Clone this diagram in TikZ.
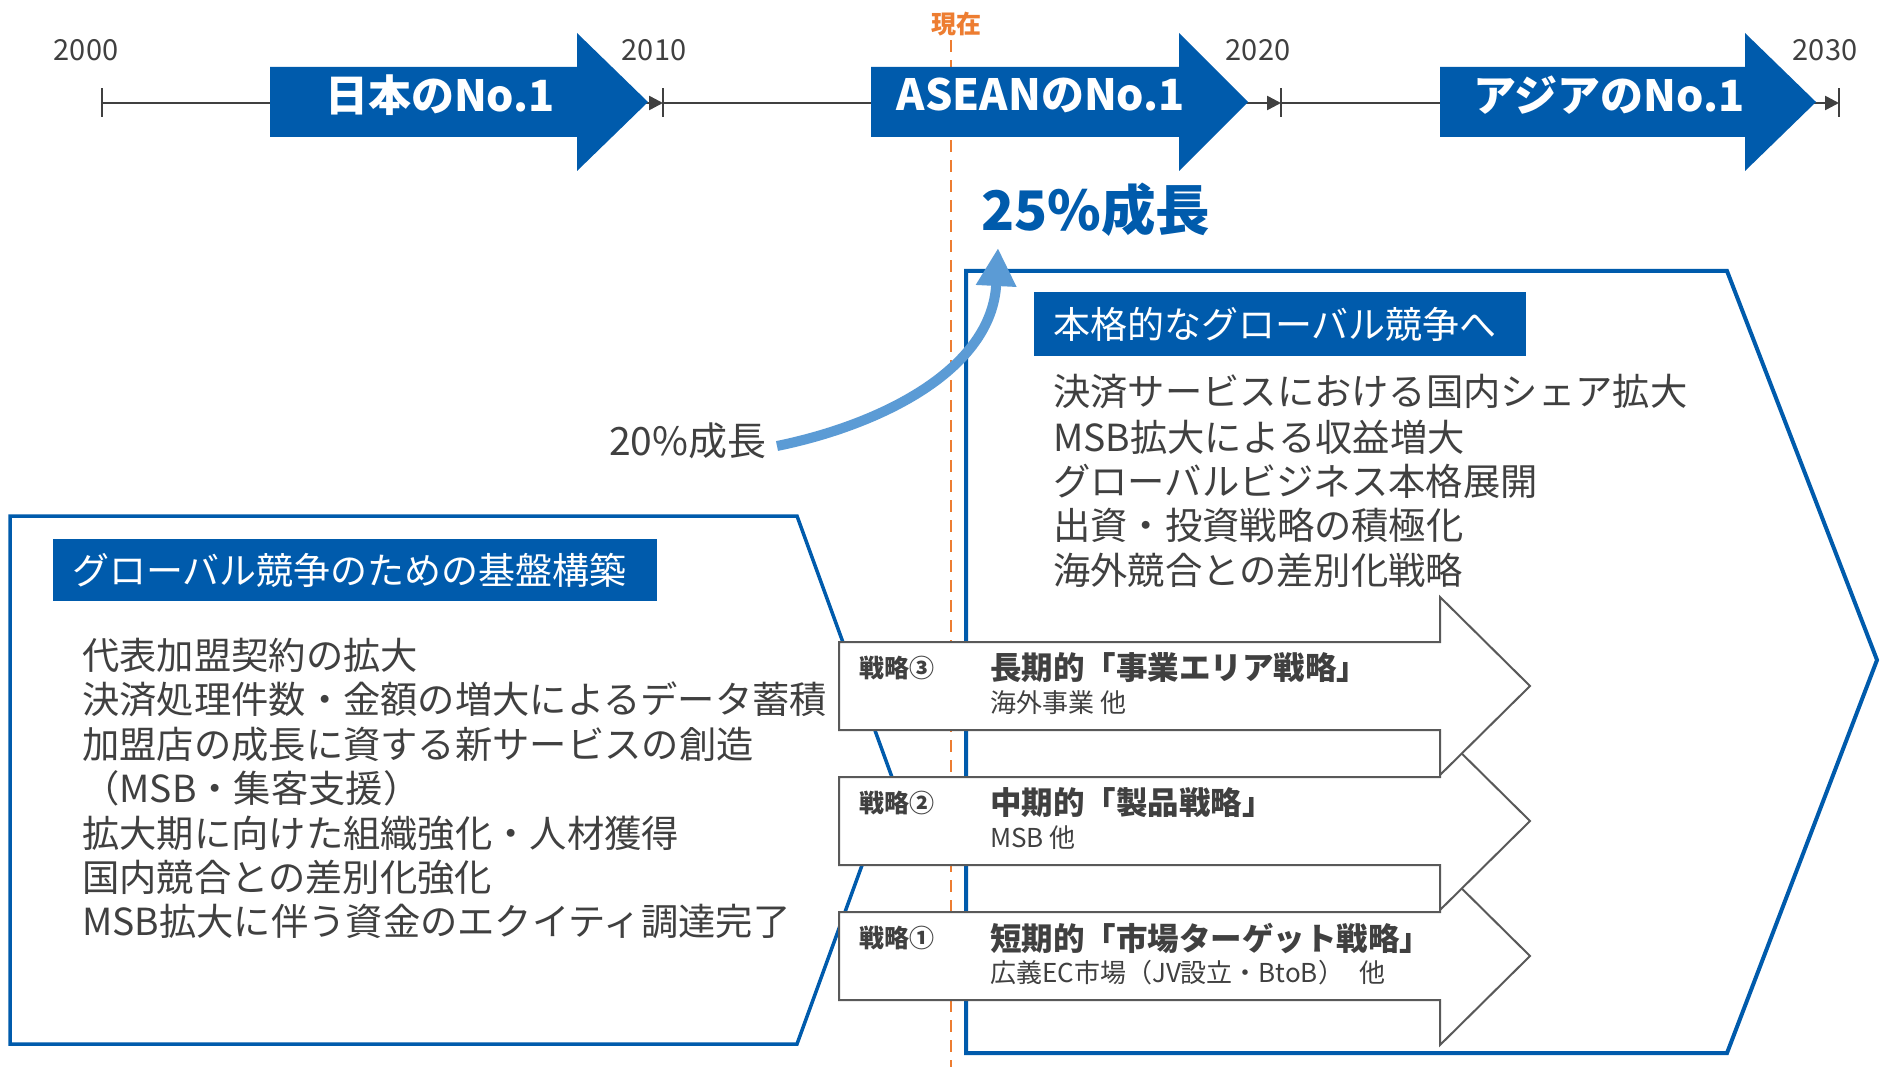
\documentclass[tikz,border=0pt]{standalone}
\usepackage{fontspec}
\setmainfont{Noto Sans CJK JP}
\usetikzlibrary{arrows.meta}
\definecolor{mainblue}{HTML}{005BAC}
\definecolor{lightblue}{HTML}{5B9BD5}
\definecolor{txtgray}{HTML}{404040}
\definecolor{linegray}{HTML}{595959}
\definecolor{nowor}{HTML}{ED7D31}
\tikzset{
  fs/.style={font=\fontsize{#1}{#1}\selectfont},
  fsb/.style={font=\fontsize{#1}{#1}\selectfont\bfseries},
  lbl/.style={inner sep=0pt, anchor=west, text=txtgray},
  year/.style={inner sep=0pt, text=txtgray, fs=29},
  bigarrow/.style={fill=mainblue},
  arrowtxt/.style={inner sep=0pt, text=white, fsb=43},
  tl/.style={draw=txtgray, line width=2.5pt},
  tlarrow/.style={tl, -{Triangle[length=14pt,width=14pt]}},
  tick/.style={draw=txtgray, line width=2.5pt},
  panel/.style={draw=mainblue, line width=4pt, line join=miter},
  titlebox/.style={fill=mainblue},
  titletxt/.style={inner sep=0pt, anchor=west, text=white, fs=37},
  bullet/.style={lbl, fs=37.3},
  strat/.style={draw=linegray, fill=white, line width=2pt, line join=miter},
  stratlbl/.style={lbl, fsb=25},
  strattitle/.style={lbl, fsb=31.5},
  stratsub/.style={lbl, fs=26},
}
\begin{document}
\begin{tikzpicture}[x=1pt,y=-1pt]
\useasboundingbox[fill=white] (0,0) rectangle (1881,1067);

% ---------- timeline ----------
\coordinate (t0) at (102,103);
\coordinate (t1) at (663,103);
\coordinate (t2) at (1281,103);
\coordinate (t3) at (1839,103);
\draw[tlarrow] (t0) -- (t1);
\draw[tlarrow] (t1) -- (t2);
\draw[tlarrow] (t2) -- (t3);
\foreach \t in {t0,t1,t2,t3} \draw[tick] ([yshift=14.5pt]\t) -- ([yshift=-14.5pt]\t);
\node[year] (y0) at (86,50) {2000};
\node[year] (y1) at (654,50) {2010};
\node[year] (y2) at (1258,50) {2020};
\node[year] (y3) at (1825,50) {2030};

% ---------- now line ----------
\node[inner sep=0pt, text=nowor, fsb=25] (now) at (956,24) {現在};
\coordinate (nowbot) at (951,1067);
\draw[nowor, line width=2pt, dash pattern=on 12pt off 8pt] (now.south -| nowbot) ++(0,4) -- (nowbot);

% ---------- big arrows ----------
\fill[bigarrow] (270,67) -- (577,67) -- (577,33) -- (648,102) -- (577,171) -- (577,137) -- (270,137) -- cycle;
\fill[bigarrow] (871,67) -- (1179,67) -- (1179,33) -- (1248,102) -- (1179,171) -- (1179,137) -- (871,137) -- cycle;
\fill[bigarrow] (1440,67) -- (1745,67) -- (1745,33) -- (1816,102) -- (1745,171) -- (1745,137) -- (1440,137) -- cycle;
\node[arrowtxt] (a1) at (440,95) {日本のNo.1};
\node[arrowtxt] (a2) at (1041,95) {ASEANのNo.1};
\node[arrowtxt] (a3) at (1609,95) {アジアのNo.1};

% ---------- panels ----------
\draw[panel] (966,271) -- (1727,271) -- (1877,660) -- (1727,1053) -- (966,1053) -- cycle;
\draw[panel, line width=3.5pt] (10,516) -- (797,516) -- (893,780) -- (797,1044) -- (10,1044) -- cycle;

% right panel title
\fill[titlebox] (1034,292) rectangle (1526,356);
\node[titletxt] (rt) at (1053,324) {本格的なグローバル競争へ};
\node[bullet] (r1) at (1053,392) {決済サービスにおける国内シェア拡大};
\node[bullet] (r2) at (1053,437) {MSB拡大による収益増大};
\node[bullet] (r3) at (1053,481) {グローバルビジネス本格展開};
\node[bullet] (r4) at (1053,525) {出資・投資戦略の積極化};
\node[bullet] (r5) at (1053,570) {海外競合との差別化戦略};

% left panel title
\fill[titlebox] (53,539) rectangle (657,601);
\node[titletxt] (lt) at (72,570) {グローバル競争のための基盤構築};
\node[bullet] (l1) at (82,655) {代表加盟契約の拡大};
\node[bullet] (l2) at (82,699) {決済処理件数・金額の増大によるデータ蓄積};
\node[bullet] (l3) at (82,744) {加盟店の成長に資する新サービスの創造};
\node[bullet] (l4) at (82,788) {（MSB・集客支援）};
\node[bullet] (l5) at (82,833) {拡大期に向けた組織強化・人材獲得};
\node[bullet] (l6) at (82,877) {国内競合との差別化強化};
\node[bullet] (l7) at (82,921) {MSB拡大に伴う資金のエクイティ調達完了};

% ---------- growth ----------
\node[lbl, fs=39] (g20) at (609,441) {20\%成長};
\node[inner sep=0pt, anchor=west, text=mainblue, fsb=54.5] (g25) at (981,210) {25\%成長};
\coordinate (cs) at (777,446);
\coordinate (ce) at (998,248);
\draw[lightblue, line width=10pt, -{Triangle[length=38pt,width=38pt]}]
  (cs) .. controls (880,425) and (992,370) .. (ce);

% ---------- strategy arrows ----------
\draw[strat] (839,912) -- (1440,912) -- (1440,867) -- (1530,956) -- (1440,1045) -- (1440,1000) -- (839,1000) -- cycle;
\draw[strat] (839,777) -- (1440,777) -- (1440,732) -- (1530,821) -- (1440,910) -- (1440,865) -- (839,865) -- cycle;
\draw[strat] (839,642) -- (1440,642) -- (1440,597) -- (1530,686) -- (1440,775) -- (1440,730) -- (839,730) -- cycle;

\node[stratlbl] (s3) at (859,668) {戦略③};
\node[strattitle] (s3t) at (990,668) {長期的「事業エリア戦略」};
\node[stratsub] (s3s) at (990,703) {海外事業 他};

\node[stratlbl] (s2) at (859,803) {戦略②};
\node[strattitle] (s2t) at (990,803) {中期的「製品戦略」};
\node[stratsub] (s2s) at (990,838) {MSB 他};

\node[stratlbl] (s1) at (859,938) {戦略①};
\node[strattitle] (s1t) at (990,938) {短期的「市場ターゲット戦略」};
\node[stratsub] (s1s) at (990,973) {広義EC市場（JV設立・BtoB）\hspace{0.6em}他};
\end{tikzpicture}
\end{document}
